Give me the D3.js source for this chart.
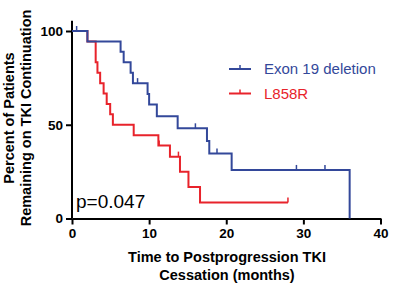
<!DOCTYPE html>
<html>
<head>
<meta charset="utf-8">
<script src="https://cdn.jsdelivr.net/npm/d3@7"></script>
<style>
  html, body { margin: 0; padding: 0; background: #fff; }
  svg { display: block; }
  text { font-family: "Liberation Sans", Arial, sans-serif; }
</style>
</head>
<body>
<svg id="chart" width="393" height="284"></svg>
<script>
// ---- data ----
const xTicks = [0, 10, 20, 30, 40];
const yTicks = [0, 50, 100];
const seriesNames = ["Exon 19 deletion", "L858R"];
const seriesColors = ["#33489a", "#e8232b"];

const blueTimes = [0, 2.0, 6.3, 6.7, 7.6, 7.9, 9.8, 10.0, 11.0, 13.7, 17.5, 17.8, 20.7, 36.0];
const blueSurv  = [100, 94.4, 88.9, 83.3, 77.8, 72.2, 66.4, 60.8, 54.5, 48.1, 41.4, 34.7, 25.9, 0];
const blueCensor = [0.6, 8.5, 16.0, 18.8, 29.1, 32.8];

const redTimes = [0, 2.0, 3.07, 3.3, 3.65, 4.1, 4.5, 4.95, 5.3, 8.0, 11.2, 12.7, 14.0, 15.1, 16.6, 28.0];
const redSurv  = [100, 94.4, 83.3, 77.8, 72.2, 66.7, 61.1, 55.6, 50.0, 44.4, 39.0, 33.0, 25.0, 16.8, 8.5, 8.5];
const redCensor = [11.3, 13.8, 28.0];

const pValueText = "p=0.047";
const xTitle = ["Time to Postprogression TKI", "Cessation (months)"];
const yTitle = ["Percent of Patients", "Remaining on TKI Continuation"];

// ---- chart ----
const svg = d3.select("#chart");
const x = d3.scaleLinear().domain([0, 40]).range([72, 380.5]);
const y = d3.scaleLinear().domain([0, 100]).range([218.5, 31]);
const yTop = y(105.5);

// axes
const xAxis = svg.append("g").attr("transform", `translate(0,${y(0)})`)
  .call(d3.axisBottom(x).tickValues(xTicks).tickSize(6).tickPadding(4).tickSizeOuter(0));
const yAxis = svg.append("g").attr("transform", `translate(${x(0)},0)`)
  .call(d3.axisLeft(y).tickValues(yTicks).tickSize(6).tickPadding(3).tickSizeOuter(0));
yAxis.select(".domain").attr("d", `M0,${yTop}V${y(0)}`);
[xAxis, yAxis].forEach(g => {
  g.select(".domain").attr("stroke", "#000").attr("stroke-width", 2);
  g.selectAll(".tick line").attr("stroke", "#000").attr("stroke-width", 2);
  g.selectAll(".tick text").attr("fill", "#000").attr("font-size", 13.5)
    .attr("font-weight", "bold").style("font-family", '"Liberation Sans", Arial, sans-serif');
});

// step curves
const line = d3.line().x(d => x(d[0])).y(d => y(d[1])).curve(d3.curveStepAfter);
function stepAt(times, surv, t) {
  const i = d3.bisectRight(times, t) - 1;
  return surv[Math.max(0, i)];
}
const series = [
  { times: blueTimes, surv: blueSurv, censor: blueCensor, color: seriesColors[0] },
  { times: redTimes, surv: redSurv, censor: redCensor, color: seriesColors[1] }
];
// draw red first so blue sits on top
[series[1], series[0]].forEach(s => {
  const pts = s.times.map((t, i) => [t, s.surv[i]]);
  svg.append("path").attr("d", line(pts)).attr("fill", "none")
    .attr("stroke", s.color).attr("stroke-width", 2);
  svg.selectAll(null).data(s.censor).enter().append("line")
    .attr("x1", d => x(d)).attr("x2", d => x(d))
    .attr("y1", d => y(stepAt(s.times, s.surv, d)))
    .attr("y2", d => y(stepAt(s.times, s.surv, d)) - 5)
    .attr("stroke", s.color).attr("stroke-width", 1.5);
});

// legend
const legend = svg.append("g");
seriesNames.forEach((name, i) => {
  const ly = 69 + i * 24.5;
  legend.append("line").attr("x1", 229).attr("x2", 251).attr("y1", ly).attr("y2", ly)
    .attr("stroke", seriesColors[i]).attr("stroke-width", 2);
  legend.append("line").attr("x1", 240).attr("x2", 240).attr("y1", ly).attr("y2", ly - 4)
    .attr("stroke", seriesColors[i]).attr("stroke-width", 1.5);
  legend.append("text").attr("x", 264).attr("y", ly).attr("dy", "0.35em")
    .attr("font-size", 15).attr("fill", seriesColors[i]).text(name);
});

// p-value
svg.append("text").attr("x", 76).attr("y", 208).attr("font-size", 19)
  .attr("fill", "#000").text(pValueText);

// axis titles
xTitle.forEach((t, i) => {
  svg.append("text").attr("x", 227).attr("y", 262 + i * 18).attr("text-anchor", "middle")
    .attr("font-size", 14.5).attr("font-weight", "bold").attr("fill", "#000").text(t);
});
yTitle.forEach((t, i) => {
  svg.append("text").attr("transform", `translate(${14 + i * 17},118) rotate(-90)`)
    .attr("text-anchor", "middle").attr("font-size", 14.5).attr("font-weight", "bold")
    .attr("fill", "#000").text(t);
});
</script>
</body>
</html>
